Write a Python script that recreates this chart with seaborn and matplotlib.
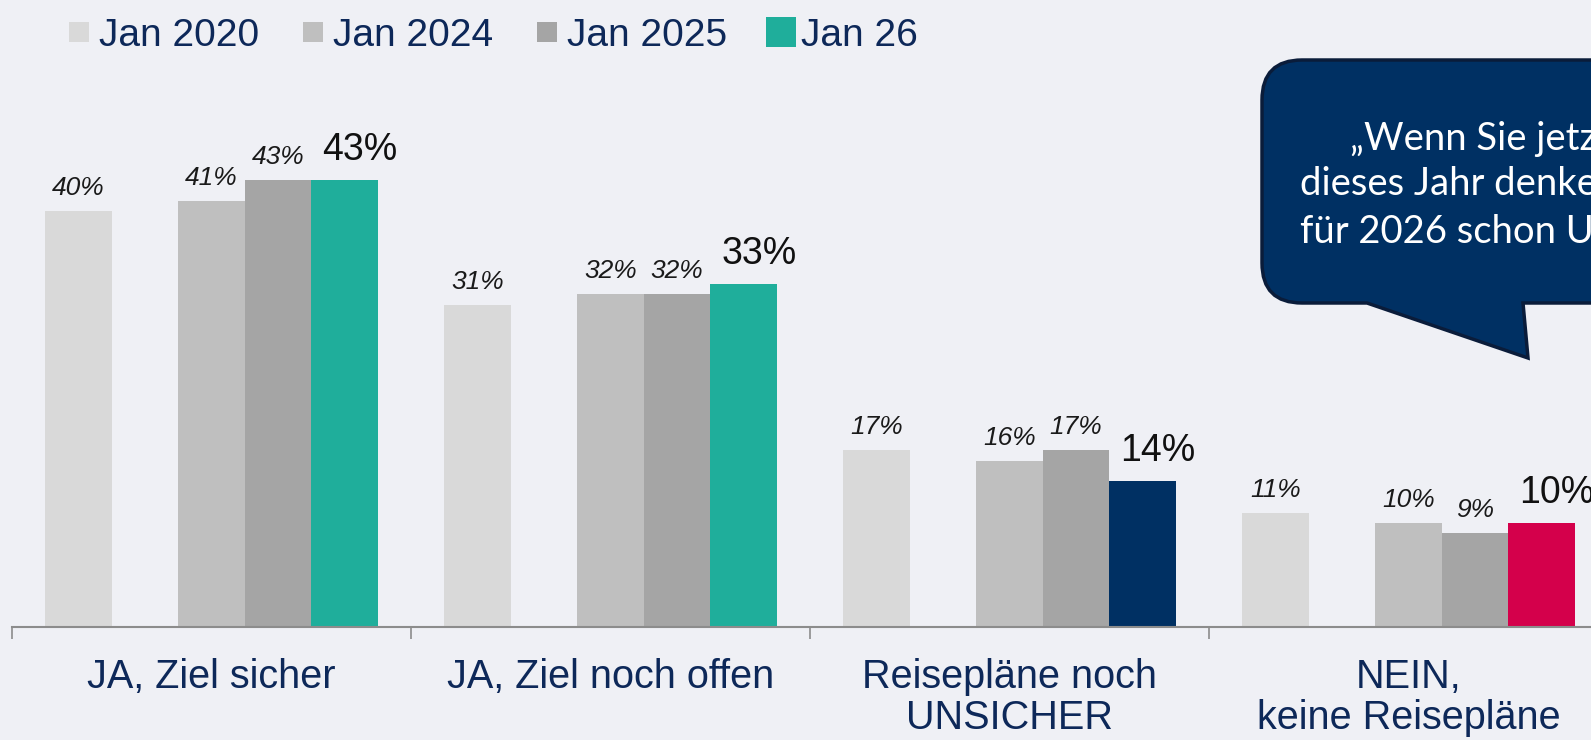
import numpy as np
import pandas as pd
import matplotlib
matplotlib.use("Agg")
import matplotlib.pyplot as plt
from matplotlib.path import Path
from matplotlib.patches import PathPatch
from matplotlib.lines import Line2D
import seaborn as sns

# --- data -------------------------------------------------------------
categories = ["JA, Ziel sicher", "JA, Ziel noch offen",
              "Reisepläne noch\nUNSICHER", "NEIN,\nkeine Reisepläne"]
series_names = ["Jan 2020", "Jan 2024", "Jan 2025", "Jan 26"]
jan_2020 = [40, 31, 17, 11]
jan_2024 = [41, 32, 16, 10]
jan_2025 = [43, 32, 17, 9]
jan_26 = [43, 33, 14, 10]
bubble_lines = ["„Wenn Sie jetzt einmal an",
                "dieses Jahr denken: Haben Sie",
                "für 2026 schon Urlaubspläne?“"]

# --- style ------------------------------------------------------------
BG = "#eff0f5"
NAVY_TEXT = "#0d2859"
GREYS = ["#d9d9d9", "#bfbfbf", "#a5a5a5"]
TEAL = "#1fae9b"
ACCENT = [TEAL, TEAL, "#003063", "#d4004b"]
BUBBLE = "#003063"

sns.set_theme(style="white")
plt.rcParams["font.family"] = ["Liberation Sans", "DejaVu Sans"]

W, H, DPI = 1591, 740, 100
fig = plt.figure(figsize=(W / DPI, H / DPI), dpi=DPI, facecolor=BG)
ax = fig.add_axes([12 / W, (H - 627) / H, 1 - 12 / W, (627 - 107) / H])
ax.set_facecolor(BG)

# an empty hue level leaves the gap between 2020 and 2024
GAP = " "
hue_order = ["Jan 2020", GAP, "Jan 2024", "Jan 2025", "Jan 26"]
palette = {"Jan 2020": GREYS[0], GAP: BG, "Jan 2024": GREYS[1],
           "Jan 2025": GREYS[2], "Jan 26": TEAL}
series_by_slot = {0: jan_2020, 2: jan_2024, 3: jan_2025, 4: jan_26}

df = pd.DataFrame({
    "Kategorie": np.tile(categories, 4),
    "Welle": np.repeat(series_names, 4),
    "Anteil": np.concatenate([jan_2020, jan_2024, jan_2025, jan_26]),
})

BAR_W = 5 / 6
sns.barplot(data=df, x="Kategorie", y="Anteil", hue="Welle",
            order=categories, hue_order=hue_order, palette=palette,
            width=BAR_W, gap=0, saturation=1, errorbar=None,
            legend=False, linewidth=0, ax=ax)

slot_w = BAR_W / 5
for bar in ax.patches:
    if bar.get_height() <= 0:
        continue
    xc = bar.get_x() + bar.get_width() / 2
    cat = int(round(xc))
    slot = int(round((xc - cat + BAR_W / 2) / slot_w - 0.5))
    value = series_by_slot[slot][cat]
    if slot == 4:
        bar.set_facecolor(ACCENT[cat])
        ax.annotate(f"{value}%", (xc, value), xytext=(11, 14.5),
                    textcoords="offset points", ha="center", va="baseline",
                    fontsize=27, color="#111111", annotation_clip=False)
    else:
        ax.annotate(f"{value}%", (xc, value), xytext=(0, 11.5),
                    textcoords="offset points", ha="center", va="baseline",
                    fontsize=19, style="italic", color="#1a1a1a")

# --- axes -------------------------------------------------------------
ax.set_yticks([])
ax.set_xlabel("")
ax.set_ylabel("")
for side in ("top", "left", "right"):
    ax.spines[side].set_visible(False)
ax.spines["bottom"].set_color("#8c8c8c")
ax.spines["bottom"].set_linewidth(1.5)

ax.set_xticks([-0.5, 0.5, 1.5, 2.5, 3.5], labels=[""] * 5)
ax.set_xticks(range(len(categories)), labels=categories, minor=True)
ax.tick_params(axis="x", which="major", direction="out", length=8.6,
               width=1.2, color="#8c8c8c", bottom=True)
ax.tick_params(axis="x", which="minor", length=0, pad=22,
               labelsize=28.5, labelcolor=NAVY_TEXT)
for lbl in ax.get_xticklabels(minor=True):
    lbl.set_linespacing(1.1)
ax.set_ylim(0, 50)
ax.set_xlim(-0.5, -0.5 + (W - 12) / 399)

# --- legend -----------------------------------------------------------
legend_colors = [GREYS[0], GREYS[1], GREYS[2], TEAL]
legend_sizes = [14.4, 14.4, 14.4, 20.9]
handles = [Line2D([], [], marker="s", linestyle="none", markersize=s,
                  markerfacecolor=c, markeredgewidth=0)
           for c, s in zip(legend_colors, legend_sizes)]
fig.legend(handles, series_names, loc="upper left",
           bbox_to_anchor=(64 / W, 1 - 18 / H), ncol=4, frameon=False,
           fontsize=28, handlelength=0.75, handletextpad=0.15,
           columnspacing=1.0, borderpad=0, borderaxespad=0,
           labelcolor=NAVY_TEXT)

# --- speech bubble ----------------------------------------------------
def to_fig(x, y):
    return (x / W, 1 - y / H)

pts = [(1367, 303), (1528, 358), (1523, 303), (1750, 303), (1750, 60),
       (1302, 60), (1262, 60), (1262, 100), (1262, 263), (1262, 303),
       (1302, 303), (1367, 303)]
codes = [Path.MOVETO, Path.LINETO, Path.LINETO, Path.LINETO, Path.LINETO,
         Path.LINETO, Path.CURVE3, Path.CURVE3, Path.LINETO, Path.CURVE3,
         Path.CURVE3, Path.CLOSEPOLY]
bubble = PathPatch(Path([to_fig(*p) for p in pts], codes),
                   transform=fig.transFigure, facecolor=BUBBLE,
                   edgecolor="#0a1c3a", linewidth=2.5, zorder=5)
fig.add_artist(bubble)

for (x, y), line in zip([(1350, 150), (1300, 195), (1300, 243)], bubble_lines):
    fig.text(*to_fig(x, y), line, color="white", fontsize=27.5,
             family=["Lato", "DejaVu Sans"], fontweight="normal",
             ha="left", va="baseline", zorder=6)

fig.savefig("out.png", dpi=DPI, facecolor=BG)
